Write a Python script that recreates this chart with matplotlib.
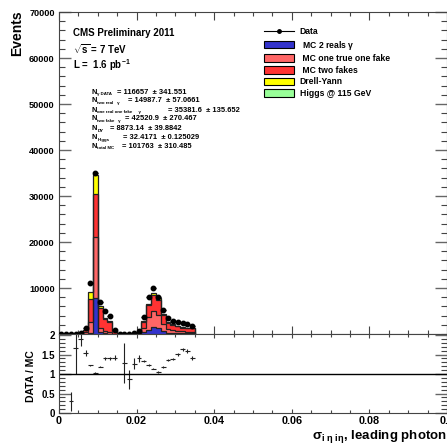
import numpy as np
import matplotlib
matplotlib.use("Agg")
import matplotlib.pyplot as plt
from matplotlib.patches import Patch
from matplotlib.lines import Line2D
from matplotlib.ticker import MultipleLocator

plt.rcParams["font.family"] = ["Liberation Sans", "DejaVu Sans"]
plt.rcParams["font.weight"] = "bold"
plt.rcParams["mathtext.fontset"] = "custom"
plt.rcParams["mathtext.rm"] = "Liberation Sans:bold"
plt.rcParams["mathtext.it"] = "Liberation Sans:bold"
plt.rcParams["mathtext.bf"] = "Liberation Sans:bold"

# --- data (bins of 0.00125 from 0, first 28 bins filled)
bin_width = 0.00125
n_bins = 28
mc_two_real = [0, 0, 2, 2, 20, 100, 300, 7760, 400, 150, 80, 20, 0, 2,
               5, 15, 60, 400, 900, 1450, 1200, 600, 300, 250, 200, 170, 150, 140]
mc_one_fake = [0, 0, 5, 8, 60, 300, 2300, 13390, 800, 500, 300, 80, 1, 5,
               20, 60, 200, 1000, 2700, 3550, 3000, 1500, 800, 600, 500, 400, 380, 360]
mc_two_fake = [0, 0, 5, 8, 80, 450, 5000, 9280, 4500, 2700, 2300, 480, 2, 9,
               33, 80, 230, 1300, 2600, 3480, 3100, 2100, 1400, 1170, 1000, 790, 740, 725]
mc_dy = [0, 0, 0, 0, 0, 50, 1600, 4130, 300, 200, 160, 30, 0, 0,
         0, 2, 20, 110, 390, 350, 420, 220, 110, 80, 75, 55, 50, 50]
data = [0, 0, 3, 30, 305, 1370, 11020, 35070, 7020, 5000, 3980, 870, 0, 20,
        50, 200, 720, 3770, 8110, 10070, 8110, 5220, 3550, 2900, 2680, 2320, 2100, 1810]
ratio = [np.nan, np.nan, 0.30, 1.68, 1.91, 1.53, 1.22, 1.03, 1.19, 1.40, 1.40, 1.42, np.nan, 1.28,
         0.86, 1.27, 1.40, 1.34, 1.23, 1.14, 1.05, 1.18, 1.36, 1.38, 1.51, 1.64, 1.59, 1.42]
ratio_err = [0, 0, 0.25, 0.68, 0.20, 0.08, 0.02, 0.01, 0.02, 0.03, 0.03, 0.07, 0, 0.52,
             0.25, 0.15, 0.08, 0.03, 0.02, 0.02, 0.02, 0.02, 0.03, 0.03, 0.04, 0.04, 0.04, 0.05]

legend_labels = ["Data", " MC 2 reals $\\gamma$", " MC one true one fake", " MC two fakes",
                 "Drell-Yann", "Higgs @ 115 GeV"]
colors = ["#3333cc", "#ff6666", "#ff3333", "#ffff00", "#99ff99"]

# yields box: subscript, value text, x where the "=" starts (px)
yield_subs = ["γ DATA", "two real   γ", "one real one fake     γ", "two fake   γ",
              "DY", "Higgs", "total MC"]
yield_vals = ["= 116657  ± 341.551", "= 14987.7  ± 57.0661", "= 35381.6  ± 135.652",
              "= 42520.9  ± 270.467", "= 8873.14  ± 39.8842", "= 32.4171  ± 0.125029",
              "= 101763  ± 310.485"]
yield_val_x = [116.7, 128.3, 168, 125, 110, 122.7, 121.7]
yield_y = [92, 101, 110.3, 119, 128.3, 137.3, 146]

W, H = 447, 446
fig = plt.figure(figsize=(W / 100, H / 100), dpi=100)


def fx(px):
    return px / W


def fy(py):
    return 1 - py / H


ax1 = fig.add_axes([fx(58.9), fy(334), fx(388), 322 / H])
ax2 = fig.add_axes([fx(58.9), fy(413), fx(388), 79.5 / H])

edges = np.arange(n_bins + 1) * bin_width
centers = edges[:-1] + bin_width / 2

comps = [np.array(mc_two_real, float), np.array(mc_one_fake, float),
         np.array(mc_two_fake, float), np.array(mc_dy, float)]
cum = np.cumsum(comps, axis=0)
for i in range(len(comps) - 1, -1, -1):
    ax1.stairs(cum[i], edges, fill=True, color=colors[i], zorder=2)
    ax1.stairs(cum[i], edges, color="#222222", lw=0.9, zorder=3)

data = np.array(data, float)
ax1.errorbar(centers, data, xerr=bin_width / 2, yerr=np.sqrt(data), fmt="o",
             ms=3.2, color="black", ecolor="black", elinewidth=0.9, capsize=0, zorder=4)

ax1.set_xlim(0, 0.1)
ax1.set_ylim(0, 70000)
ax1.yaxis.set_minor_locator(MultipleLocator(2000))
ax1.xaxis.set_major_locator(MultipleLocator(0.02))
ax1.xaxis.set_minor_locator(MultipleLocator(0.005))
ax1.set_yticks(np.arange(10000, 70001, 10000))
ax1.set_yticklabels([str(v) for v in range(10000, 70001, 10000)])
ax1.tick_params(axis="y", which="major", direction="in", length=8.5, width=1.0,
                left=True, right=True, labelsize=6.6, color="#666666", pad=3)
ax1.tick_params(axis="y", which="minor", direction="in", length=4, width=0.8,
                left=True, right=True, color="#444444")
ax1.tick_params(axis="x", which="major", direction="in", length=6, width=0.8,
                top=True, bottom=True, labelbottom=False, color="#444444")
ax1.tick_params(axis="x", which="minor", direction="in", length=3, width=0.8,
                top=True, bottom=True, color="#444444")
for s in ax1.spines.values():
    s.set_linewidth(0.8)
    s.set_color("#444444")

# ratio pad
ax2.errorbar(centers, ratio, xerr=bin_width / 2, yerr=ratio_err, fmt="none",
             ecolor="#222222", elinewidth=0.8, capsize=0)
ax2.axhline(1.0, color="black", lw=1.0)
ax2.set_xlim(0, 0.1)
ax2.set_ylim(0, 2.04)
ax2.xaxis.set_minor_locator(MultipleLocator(0.005))
ax2.yaxis.set_minor_locator(MultipleLocator(0.1))
ax2.set_xticks([0, 0.02, 0.04, 0.06, 0.08, 0.1])
ax2.set_xticklabels(["0", "0.02", "0.04", "0.06", "0.08", "0.1"])
ax2.set_yticks([0, 0.5, 1, 1.5, 2])
ax2.set_yticklabels(["0", "0.5", "1", "1.5", "2"])
ax2.tick_params(axis="y", which="major", direction="in", length=8.5, width=1.0,
                left=True, right=True, labelsize=7, color="#666666", pad=3)
ax2.tick_params(axis="y", which="minor", direction="in", length=4, width=0.8,
                left=True, right=True, color="#444444")
ax2.tick_params(axis="x", which="major", direction="in", length=3, width=0.8,
                top=True, bottom=True, labelsize=7.8, color="#444444", pad=2)
ax2.tick_params(axis="x", which="minor", direction="in", length=2, width=0.8,
                top=True, bottom=True, color="#444444")
for s in ax2.spines.values():
    s.set_linewidth(0.8)
    s.set_color("#444444")

# axis titles
fig.text(fx(17), fy(10), "Events", rotation=90, ha="center", va="top", fontsize=10)
fig.text(fx(31), fy(376), "DATA / MC", rotation=90, ha="center", va="center", fontsize=7.5)
fig.text(fx(447), fy(436), r"$\sigma_{i\ \eta\ i\eta}$, leading photon", ha="right",
         va="center", fontsize=9.5)

# CMS labels
fig.text(fx(73), fy(33), "CMS Preliminary 2011", ha="left", va="center", fontsize=7)
fig.text(fx(73), fy(49.5), r"$\sqrt{s}$ = 7 TeV", ha="left", va="center", fontsize=7)
fig.text(fx(73), fy(65), r"L =  1.6 pb$^{-1}$", ha="left", va="center", fontsize=7)

for sub, val, vx, y in zip(yield_subs, yield_vals, yield_val_x, yield_y):
    fig.text(fx(92), fy(y), "N", ha="left", va="center", fontsize=5.4)
    fig.text(fx(97.3), fy(y + 2.2), sub, ha="left", va="center", fontsize=3.2)
    fig.text(fx(vx), fy(y), val, ha="left", va="center", fontsize=5.4)

handles = [Line2D([], [], color="black", marker="o", ms=2.5, lw=0.8)]
for c in colors:
    handles.append(Patch(facecolor=c, edgecolor="black", lw=0.8))
fig.legend(handles, legend_labels, loc="upper left",
           bbox_to_anchor=(fx(264.3), fy(27)), frameon=False, fontsize=6.2,
           handlelength=3.4, handleheight=0.95, labelspacing=0.3,
           handletextpad=0.7, borderpad=0, borderaxespad=0)

fig.savefig("out.png", dpi=100)
